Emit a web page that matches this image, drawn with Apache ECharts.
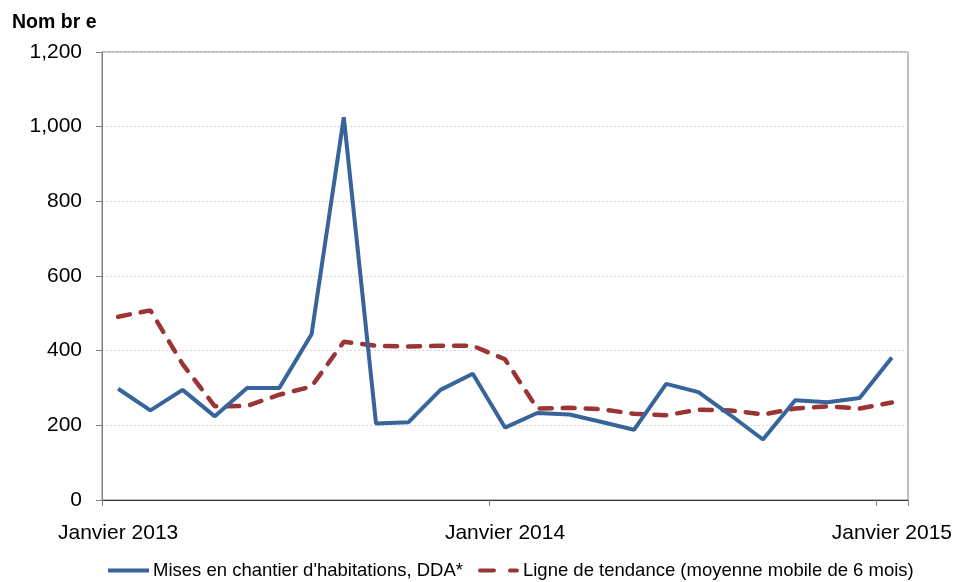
<!DOCTYPE html>
<html>
<head>
<meta charset="utf-8">
<script src="https://cdn.jsdelivr.net/npm/echarts@6/dist/echarts.min.js"></script>
<style>
html,body{margin:0;padding:0;background:#fff;}
#c{width:956px;height:582px;}
</style>
</head>
<body>
<div id="c"></div>
<script>
var months = ['Janvier 2013','Février 2013','Mars 2013','Avril 2013','Mai 2013','Juin 2013','Juillet 2013','Août 2013','Septembre 2013','Octobre 2013','Novembre 2013','Décembre 2013',
  'Janvier 2014','Février 2014','Mars 2014','Avril 2014','Mai 2014','Juin 2014','Juillet 2014','Août 2014','Septembre 2014','Octobre 2014','Novembre 2014','Décembre 2014','Janvier 2015'];
var misesEnChantier = [298,240,295,224,300,300,444,1025,205,208,295,338,194,233,229,209,188,311,289,227,162,267,262,273,382];
var tendance = [491,508,364,251,252,282,304,424,413,411,413,413,377,245,247,243,231,227,242,240,229,245,251,245,261];
var yTicks = [0,200,400,600,800,1000,1200];
var seriesNames = ["Mises en chantier d'habitations, DDA*", "Ligne de tendance (moyenne mobile de 6 mois)"];
var yTitle = 'Nom br e';

var FONT = '"Liberation Sans", Arial, sans-serif';
var BLUE = '#37649a', RED = '#9b3535';
var chart = echarts.init(document.getElementById('c'));
chart.setOption({
  animation: false,
  backgroundColor: '#fff',
  title: {
    text: yTitle, left: 7, top: 8,
    textStyle: {fontFamily: FONT, fontSize: 19.5, fontWeight: 'bold', color: '#000'}
  },
  grid: {left: 102, right: 48, top: 52, bottom: 82, show: true, borderColor: '#808080', borderWidth: 1},
  legend: {
    left: 103, top: 556, itemWidth: 41, itemHeight: 4, itemGap: 15,
    textStyle: {fontFamily: FONT, fontSize: 18.5, color: '#000', padding: [0,0,0,-1]},
    data: [
      {name: seriesNames[0], icon: 'path://M0,0h41v4h-41z', itemStyle: {color: BLUE}},
      {name: seriesNames[1], icon: 'path://M2,0h14a2,2 0 0 1 0,4h-14a2,2 0 0 1 0,-4z M32,0h7a2,2 0 0 1 0,4h-7a2,2 0 0 1 0,-4z', itemStyle: {color: RED}}
    ]
  },
  xAxis: {
    type: 'category', data: months, boundaryGap: true,
    axisLine: {lineStyle: {color: '#333', width: 1}},
    axisTick: {show: true, length: 6, lineStyle: {color: '#808080'}, interval: function(i){return i % 12 === 0;}},
    axisLabel: {
      interval: function(i){return i % 12 === 0;},
      formatter: function(v){return v;},
      fontFamily: FONT, fontSize: 21, color: '#000', margin: 23
    },
    splitLine: {show: false}
  },
  yAxis: {
    type: 'value', min: yTicks[0], max: yTicks[yTicks.length-1], interval: 200,
    axisLine: {show: true, lineStyle: {color: '#808080'}},
    axisTick: {show: true, length: 6, lineStyle: {color: '#808080'}},
    axisLabel: {
      fontFamily: FONT, fontSize: 21, color: '#000', margin: 20,
      formatter: function(v){return v.toLocaleString('en-US');}
    },
    splitLine: {show: true, lineStyle: {color: '#d6d6d6', type: [2,2], width: 1}}
  },
  series: [
    {
      name: seriesNames[0], type: 'line', data: misesEnChantier, symbol: 'none',
      lineStyle: {color: BLUE, width: 4}, itemStyle: {color: BLUE}, z: 3
    },
    {
      name: seriesNames[1], type: 'line', data: tendance, symbol: 'none',
      lineStyle: {color: RED, width: 4.5, type: [12, 11], cap: 'round'}, itemStyle: {color: RED}, z: 2
    }
  ]
});
</script>
</body>
</html>
